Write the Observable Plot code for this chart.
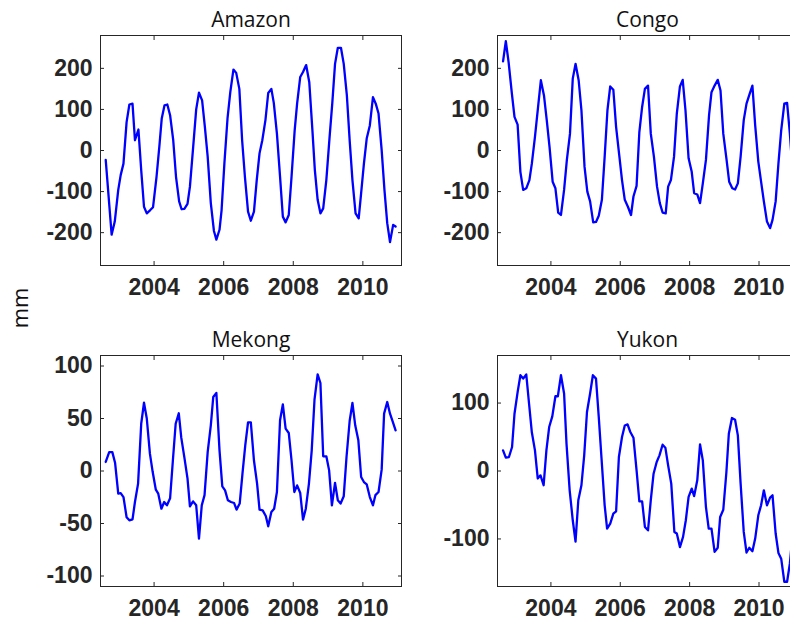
<!DOCTYPE html>
<html>
<head>
<meta charset="utf-8">
<script src="https://cdn.jsdelivr.net/npm/d3@7"></script>
<script src="https://cdn.jsdelivr.net/npm/@observablehq/plot@0.6"></script>
<style>
  html, body { margin: 0; padding: 0; background: #fff; overflow: hidden; }
  #wrap { position: relative; width: 790px; height: 619px; overflow: hidden; background: #fff; }
  .panel { position: absolute; }
  .panel svg { max-width: none !important; display: block; }
  #ylab { position: absolute; left: 19px; top: 308px; transform: translate(-50%, -50%) rotate(-90deg);
          font-family: "Open Sans", sans-serif; font-size: 22px; color: #111; white-space: nowrap; }
</style>
</head>
<body>
<div id="wrap">
  <div id="ylab">mm</div>
</div>
<script>
// Panel titles
const titles = ["Amazon", "Congo", "Mekong", "Yukon"];
const yLabel = "mm";
// Tick labels
const xTicks = [2004, 2006, 2008, 2010];
const yTicksBig = [-200, -100, 0, 100, 200];
const yTicksMekong = [-100, -50, 0, 50, 100];
const yTicksYukon = [-100, 0, 100];

// Series: [decimal year, mm]
const amazon = [[2002.61,-23],[2002.78,-205],[2002.87,-173],[2002.97,-96],[2003.04,-60],[2003.12,-32],[2003.21,69],[2003.29,112],[2003.38,114],[2003.45,25],[2003.55,51],[2003.63,-48],[2003.71,-137],[2003.79,-153],[2003.89,-145],[2003.97,-138],[2004.07,-64],[2004.15,9],[2004.22,78],[2004.30,110],[2004.38,112],[2004.46,86],[2004.55,25],[2004.63,-64],[2004.72,-124],[2004.79,-143],[2004.87,-142],[2004.96,-130],[2005.03,-88],[2005.12,5],[2005.21,100],[2005.29,141],[2005.38,122],[2005.46,57],[2005.54,-15],[2005.63,-128],[2005.72,-196],[2005.79,-217],[2005.88,-193],[2005.94,-145],[2006.02,-32],[2006.11,78],[2006.19,142],[2006.28,197],[2006.36,189],[2006.45,150],[2006.53,25],[2006.61,-64],[2006.70,-149],[2006.78,-171],[2006.87,-149],[2006.95,-72],[2007.03,-7],[2007.11,25],[2007.20,74],[2007.28,140],[2007.37,150],[2007.44,116],[2007.53,41],[2007.62,-64],[2007.70,-161],[2007.78,-175],[2007.87,-157],[2007.95,-64],[2008.04,49],[2008.11,114],[2008.20,179],[2008.28,191],[2008.37,208],[2008.46,166],[2008.55,49],[2008.62,-48],[2008.70,-120],[2008.78,-153],[2008.86,-141],[2008.95,-72],[2009.04,29],[2009.12,114],[2009.20,211],[2009.28,250],[2009.37,250],[2009.45,211],[2009.54,134],[2009.62,25],[2009.70,-72],[2009.79,-153],[2009.88,-165],[2009.95,-104],[2010.03,-32],[2010.11,29],[2010.20,61],[2010.29,130],[2010.37,114],[2010.45,90],[2010.54,1],[2010.62,-96],[2010.70,-177],[2010.78,-223],[2010.87,-181],[2010.94,-185]];

const congo = [[2002.62,217],[2002.70,266],[2002.78,215],[2002.87,142],[2002.95,82],[2003.04,63],[2003.12,-52],[2003.20,-96],[2003.29,-92],[2003.38,-72],[2003.45,-32],[2003.54,33],[2003.63,106],[2003.71,171],[2003.80,134],[2003.88,74],[2003.96,9],[2004.05,-76],[2004.13,-92],[2004.21,-151],[2004.29,-157],[2004.38,-96],[2004.46,-23],[2004.55,41],[2004.63,175],[2004.71,211],[2004.80,171],[2004.88,98],[2004.97,-40],[2005.05,-100],[2005.13,-124],[2005.22,-175],[2005.30,-174],[2005.38,-159],[2005.47,-120],[2005.55,-15],[2005.63,98],[2005.71,156],[2005.80,148],[2005.88,57],[2005.97,-11],[2006.05,-72],[2006.13,-120],[2006.22,-137],[2006.31,-157],[2006.38,-112],[2006.47,-86],[2006.55,45],[2006.63,106],[2006.71,150],[2006.80,158],[2006.88,41],[2006.97,-15],[2007.06,-88],[2007.14,-128],[2007.22,-151],[2007.31,-153],[2007.38,-88],[2007.46,-72],[2007.55,-15],[2007.63,90],[2007.72,156],[2007.80,172],[2007.88,98],[2007.97,-19],[2008.06,-52],[2008.13,-104],[2008.22,-107],[2008.30,-128],[2008.38,-80],[2008.47,-23],[2008.56,86],[2008.63,142],[2008.72,158],[2008.81,172],[2008.89,146],[2008.97,41],[2009.06,-19],[2009.14,-76],[2009.23,-92],[2009.31,-95],[2009.39,-80],[2009.47,-15],[2009.56,74],[2009.64,114],[2009.73,138],[2009.81,158],[2009.89,61],[2009.98,-27],[2010.06,-76],[2010.14,-124],[2010.23,-173],[2010.32,-189],[2010.39,-169],[2010.48,-124],[2010.56,-32],[2010.64,49],[2010.73,114],[2010.81,116],[2010.89,41],[2010.96,-40]];

const mekong = [[2002.61,8.6],[2002.71,18],[2002.80,18],[2002.88,7.6],[2002.97,-21.6],[2003.04,-21],[2003.12,-24.8],[2003.21,-44],[2003.29,-47],[2003.38,-46],[2003.45,-29.5],[2003.54,-12],[2003.63,45],[2003.71,65],[2003.79,50],[2003.88,16.5],[2003.96,-1],[2004.05,-17.8],[2004.12,-21.6],[2004.21,-35.9],[2004.29,-29.5],[2004.37,-32.7],[2004.46,-26],[2004.54,10],[2004.62,45],[2004.71,55],[2004.78,32],[2004.87,13],[2004.96,-7],[2005.03,-33.7],[2005.12,-28.9],[2005.21,-32.7],[2005.29,-64.4],[2005.37,-32.7],[2005.45,-23],[2005.54,18],[2005.63,43.5],[2005.70,70.5],[2005.79,74.3],[2005.88,19.7],[2005.96,-14.6],[2006.04,-18.4],[2006.12,-27.9],[2006.21,-29.5],[2006.30,-30.5],[2006.37,-36.8],[2006.46,-31],[2006.54,-2.5],[2006.62,24.4],[2006.70,46.3],[2006.78,46.3],[2006.87,10],[2006.96,-12],[2007.03,-36.8],[2007.12,-37.5],[2007.21,-42.9],[2007.28,-52.7],[2007.37,-39],[2007.45,-35.9],[2007.53,-20],[2007.62,48.3],[2007.70,63.5],[2007.78,40.3],[2007.87,36.2],[2007.95,10],[2008.03,-20],[2008.11,-13.7],[2008.20,-21],[2008.28,-46.3],[2008.36,-35.9],[2008.45,-12],[2008.53,19.7],[2008.61,67.9],[2008.70,92],[2008.78,83.8],[2008.86,14],[2008.95,14],[2009.03,0.6],[2009.11,-32.7],[2009.20,-11.4],[2009.28,-27.9],[2009.36,-31],[2009.45,-24],[2009.53,13.3],[2009.62,47.6],[2009.70,64.8],[2009.78,43.5],[2009.87,29.2],[2009.95,-5.7],[2010.03,-10.5],[2010.11,-12.7],[2010.20,-24.8],[2010.29,-32.7],[2010.36,-23],[2010.45,-20],[2010.54,1.3],[2010.61,54.6],[2010.70,65.7],[2010.78,54.6],[2010.86,46.7],[2010.94,38.7]];

const yukon = [[2002.62,30.4],[2002.70,19.6],[2002.79,20.6],[2002.88,35.3],[2002.95,84.3],[2003.04,116],[2003.12,141],[2003.20,136],[2003.29,142],[2003.37,99],[2003.45,57],[2003.54,30.4],[2003.62,-11],[2003.70,-6.4],[2003.79,-21],[2003.87,30.4],[2003.95,64.7],[2004.04,80.4],[2004.13,110],[2004.20,110],[2004.29,141],[2004.38,114],[2004.45,40],[2004.54,-28],[2004.63,-72.5],[2004.71,-104],[2004.79,-43],[2004.88,-21],[2004.96,23],[2005.04,86.8],[2005.13,114],[2005.21,141],[2005.30,136],[2005.38,79.4],[2005.46,18],[2005.55,-50.5],[2005.62,-84.8],[2005.71,-77.5],[2005.80,-62.7],[2005.88,-59.3],[2005.96,20.6],[2006.05,50],[2006.13,67],[2006.21,68.6],[2006.29,57.4],[2006.38,49],[2006.47,1],[2006.55,-44.6],[2006.63,-44.6],[2006.71,-82.4],[2006.80,-87.3],[2006.88,-43],[2006.96,-4],[2007.05,13.2],[2007.13,23],[2007.22,38.7],[2007.30,34.3],[2007.38,8.3],[2007.47,-18.6],[2007.56,-89.7],[2007.63,-92],[2007.72,-112],[2007.81,-97],[2007.89,-72.5],[2007.97,-38],[2008.06,-26],[2008.13,-37],[2008.22,-13.7],[2008.30,39.2],[2008.38,15.7],[2008.47,-53],[2008.55,-84.8],[2008.63,-84.8],[2008.72,-119],[2008.81,-113],[2008.88,-67.6],[2008.97,-57],[2009.06,-1.5],[2009.13,54.9],[2009.22,78],[2009.31,75.5],[2009.39,52.5],[2009.47,-18.6],[2009.56,-89.7],[2009.64,-120],[2009.72,-113],[2009.81,-118],[2009.89,-99.5],[2009.98,-65.2],[2010.06,-50.5],[2010.14,-28.4],[2010.23,-50.5],[2010.32,-39.2],[2010.39,-35.8],[2010.48,-92],[2010.56,-120.6],[2010.64,-129],[2010.73,-163],[2010.81,-163],[2010.89,-136],[2010.96,-97]];

const xDomain = [2002.46, 2011.11];
const yDomains = [[-280, 280], [-280, 280], [-110, 110], [-170, 170]];
const series = [amazon, congo, mekong, yukon];
const yTickSets = [yTicksBig, yTicksBig, yTicksMekong, yTicksYukon];
const placement = [
  {left: 0, top: 0, width: 420, height: 310, ml: 100, mr: 19, mt: 35, mb: 45},
  {left: 420, top: 0, width: 396, height: 310, ml: 77, mr: 19, mt: 35, mb: 45},
  {left: 0, top: 310, width: 420, height: 320, ml: 100, mr: 19, mt: 45, mb: 44},
  {left: 420, top: 310, width: 396, height: 320, ml: 77, mr: 19, mt: 45, mb: 44}
];

const axisColor = "#262626";
const fmt = d => String(d);
const wrap = document.getElementById("wrap");

series.forEach((s, i) => {
  const p = placement[i];
  const data = s.map(([t, v]) => ({t, v}));
  const tickOpts = {stroke: axisColor, strokeOpacity: 1};
  const chart = Plot.plot({
    width: p.width, height: p.height,
    marginLeft: p.ml, marginRight: p.mr, marginTop: p.mt, marginBottom: p.mb,
    x: {domain: xDomain},
    y: {domain: yDomains[i]},
    style: {fontFamily: "Liberation Sans, Arial, sans-serif", fontSize: "23px", fontWeight: "bold", color: axisColor, background: "transparent", overflow: "visible", maxWidth: "none"},
    marks: [
      Plot.line(data, {x: "t", y: "v", stroke: "#0000ff", strokeWidth: 2.3}),
      Plot.frame({stroke: axisColor, strokeWidth: 1}),
      Plot.axisX(xTicks, {anchor: "bottom", tickSize: 0, tickPadding: 13, tickFormat: fmt, label: null, fontWeight: "bold", fontSize: 23}),
      Plot.axisX(xTicks, {anchor: "bottom", tickSize: -4, text: null, label: null, ...tickOpts}),
      Plot.axisX(xTicks, {anchor: "top", tickSize: -4, text: null, label: null, ...tickOpts}),
      Plot.axisY(yTickSets[i], {anchor: "left", tickSize: 0, tickPadding: 8, tickFormat: fmt, label: null, fontWeight: "bold", fontSize: 23}),
      Plot.axisY(yTickSets[i], {anchor: "left", tickSize: -4, text: null, label: null, ...tickOpts}),
      Plot.axisY(yTickSets[i], {anchor: "right", tickSize: -4, text: null, label: null, ...tickOpts}),
      Plot.text([titles[i]], {frameAnchor: "top", dy: -9, lineAnchor: "bottom", fontSize: 21, fontWeight: "normal", fontFamily: "Open Sans, sans-serif", fill: "#111"})
    ]
  });
  const div = document.createElement("div");
  div.className = "panel";
  div.style.left = p.left + "px";
  div.style.top = p.top + "px";
  div.style.width = p.width + "px";
  div.style.height = p.height + "px";
  div.appendChild(chart);
  wrap.appendChild(div);
});
</script>
</body>
</html>
